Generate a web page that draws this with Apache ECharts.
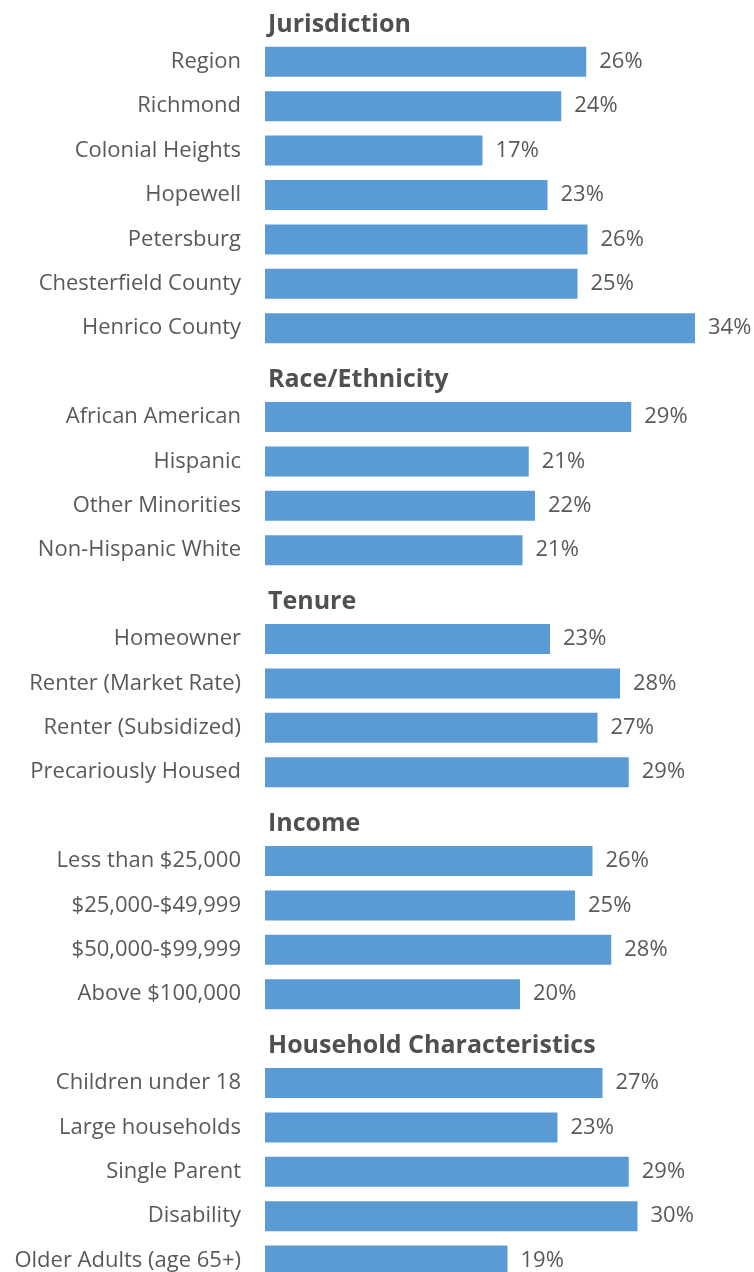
<!DOCTYPE html>
<html>
<head>
<meta charset="utf-8">
<script src="https://cdn.jsdelivr.net/npm/echarts@6/dist/echarts.min.js"></script>
<style>
  html, body { margin: 0; padding: 0; background: #fff; }
  #chart { width: 754px; height: 1272px; }
</style>
</head>
<body>
<div id="chart"></div>
<script>
// section headers
const groups = ['Jurisdiction', 'Race/Ethnicity', 'Tenure', 'Income', 'Household Characteristics']

// rows per section
const jurisdictionNames = ['Region', 'Richmond', 'Colonial Heights', 'Hopewell', 'Petersburg', 'Chesterfield County', 'Henrico County']
const jurisdictionValues = [25.7, 23.7, 17.4, 22.6, 25.8, 25.0, 34.4]

const raceNames = ['African American', 'Hispanic', 'Other Minorities', 'Non-Hispanic White']
const raceValues = [29.3, 21.1, 21.6, 20.6]

const tenureNames = ['Homeowner', 'Renter (Market Rate)', 'Renter (Subsidized)', 'Precariously Housed']
const tenureValues = [22.8, 28.4, 26.6, 29.1]

const incomeNames = ['Less than $25,000', '$25,000-$49,999', '$50,000-$99,999', 'Above $100,000']
const incomeValues = [26.2, 24.8, 27.7, 20.4]

const householdNames = ['Children under 18', 'Large households', 'Single Parent', 'Disability', 'Older Adults (age 65+)']
const householdValues = [27.0, 23.4, 29.1, 29.8, 19.4]

const sections = [
    [jurisdictionNames, jurisdictionValues],
    [raceNames, raceValues],
    [tenureNames, tenureValues],
    [incomeNames, incomeValues],
    [householdNames, householdValues]
]

// flatten: header row followed by its items
let categories = []
let barData = []
let headerData = []
let isHeader = []
sections.forEach((sec, i) => {
    categories.push(groups[i])
    barData.push('-')
    headerData.push(0)
    isHeader.push(true)
    sec[0].forEach((name, j) => {
        categories.push(name)
        barData.push(sec[1][j])
        headerData.push('-')
        isHeader.push(false)
    })
})

const font = "'Open Sans', sans-serif"
const textColor = '#595959'

let chart = echarts.init(document.getElementById('chart'))
chart.setOption({
    animation: false,
    grid: {
        left: 265,
        right: 14,
        top: -4.8,
        bottom: -10.8,
        containLabel: false,
        outerBoundsMode: 'none'
    },
    xAxis: {
        type: 'value',
        min: 0,
        max: 38,
        show: false
    },
    yAxis: {
        type: 'category',
        inverse: true,
        data: categories,
        axisLine: { show: false },
        axisTick: { show: false },
        splitLine: { show: false },
        axisLabel: {
            margin: 24,
            color: textColor,
            fontFamily: font,
            fontSize: 22,
            formatter: (val, idx) => isHeader[idx] ? '' : val
        }
    },
    series: [
        {
            name: 'share',
            type: 'bar',
            barWidth: 30,
            barGap: '-100%',
            itemStyle: { color: '#5B9BD5' },
            label: {
                show: true,
                position: 'right',
                distance: 13,
                color: textColor,
                fontFamily: font,
                fontSize: 22,
                formatter: p => Math.round(p.value) + '%'
            },
            data: barData
        },
        {
            name: 'headers',
            type: 'bar',
            barWidth: 30,
            barGap: '-100%',
            silent: true,
            itemStyle: { color: 'transparent' },
            label: {
                show: true,
                position: 'right',
                distance: 3,
                offset: [0, 7],
                color: '#505050',
                fontFamily: font,
                fontWeight: 'bold',
                fontSize: 25,
                formatter: p => p.name
            },
            data: headerData
        }
    ]
})
</script>
</body>
</html>
